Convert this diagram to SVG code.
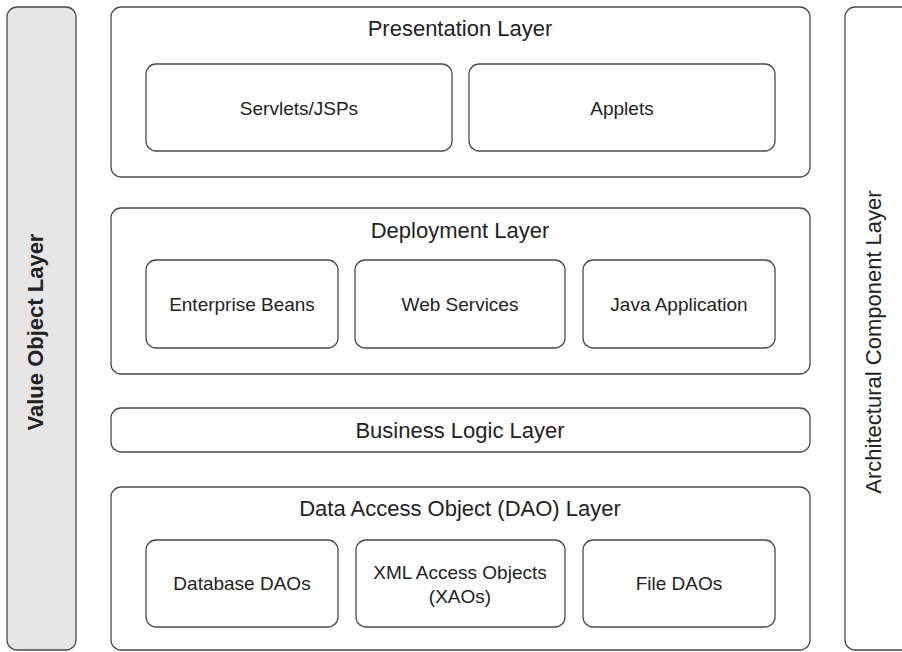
<svg xmlns="http://www.w3.org/2000/svg" width="902" height="652" viewBox="0 0 902 652">
<style>
rect{fill:#fff;stroke:#4a4a4a;stroke-width:1.3}
.side{fill:#e6e6e6}
text{font-family:"Liberation Sans",Arial,sans-serif;fill:#222;text-anchor:middle}
.t{font-size:22px}
.i{font-size:19px}
.b{font-size:22px;font-weight:bold}
</style>
<g id="value-object-layer">
<rect class="side" x="7" y="7" width="69" height="643" rx="10"/>
<text class="b" transform="translate(43,332) rotate(-90)">Value Object Layer</text>
</g>
<g id="architectural-component-layer">
<rect x="845" y="7" width="100" height="643" rx="10"/>
<text class="t" transform="translate(881,342) rotate(-90)">Architectural Component Layer</text>
</g>
<g id="presentation-layer">
<rect x="111" y="7" width="699" height="170" rx="10"/>
<text class="t" x="460" y="36">Presentation Layer</text>
</g>
<g id="servlets-jsps">
<rect x="146" y="64" width="306" height="87" rx="10"/>
<text class="i" x="299" y="115">Servlets/JSPs</text>
</g>
<g id="applets">
<rect x="469" y="64" width="306" height="87" rx="10"/>
<text class="i" x="622" y="115">Applets</text>
</g>
<g id="deployment-layer">
<rect x="111" y="208" width="699" height="166" rx="10"/>
<text class="t" x="460" y="238">Deployment Layer</text>
</g>
<g id="enterprise-beans">
<rect x="146" y="260" width="192" height="88" rx="10"/>
<text class="i" x="242" y="311">Enterprise Beans</text>
</g>
<g id="web-services">
<rect x="355" y="260" width="210" height="88" rx="10"/>
<text class="i" x="460" y="311">Web Services</text>
</g>
<g id="java-application">
<rect x="583" y="260" width="192" height="88" rx="10"/>
<text class="i" x="679" y="311">Java Application</text>
</g>
<g id="business-logic-layer">
<rect x="111" y="408" width="699" height="44" rx="10"/>
<text class="t" x="460" y="438">Business Logic Layer</text>
</g>
<g id="dao-layer">
<rect x="111" y="487" width="699" height="163" rx="10"/>
<text class="t" x="460" y="516">Data Access Object (DAO) Layer</text>
</g>
<g id="database-daos">
<rect x="146" y="540" width="192" height="87" rx="10"/>
<text class="i" x="242" y="590">Database DAOs</text>
</g>
<g id="xml-access-objects">
<rect x="356" y="540" width="209" height="87" rx="10"/>
<text class="i" x="460" y="579">XML Access Objects</text>
<text class="i" x="460" y="603">(XAOs)</text>
</g>
<g id="file-daos">
<rect x="583" y="540" width="192" height="87" rx="10"/>
<text class="i" x="679" y="590">File DAOs</text>
</g>
<g id="connectors"/>
</svg>
